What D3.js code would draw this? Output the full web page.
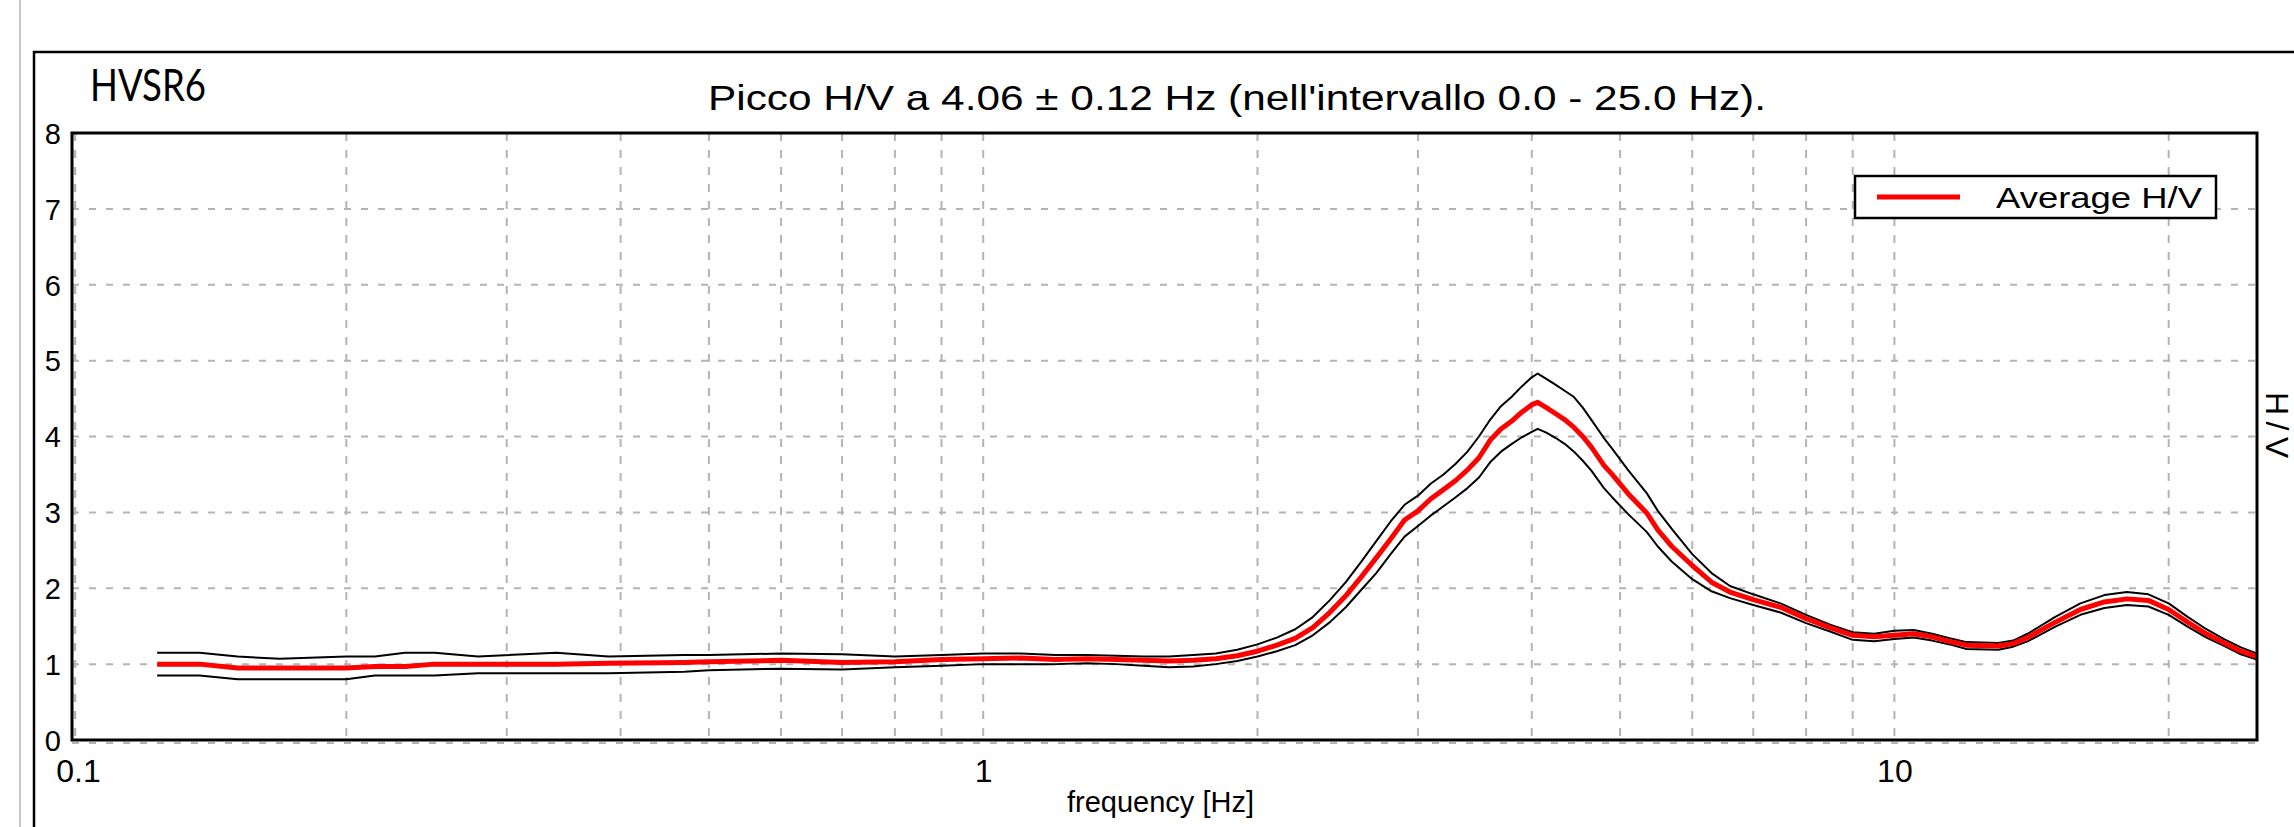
<!DOCTYPE html>
<html>
<head>
<meta charset="utf-8">
<script src="https://cdn.jsdelivr.net/npm/d3@7"></script>
<style>
  html, body { margin: 0; padding: 0; background: #fff; }
  svg { display: block; }
  text { font-family: "Liberation Sans", Arial, sans-serif; fill: #000; }
</style>
</head>
<body>
<svg id="chart" width="2294" height="827"></svg>
<script>
// ---- data ----
const chartTitle = "HVSR6";
const peakTitle = "Picco H/V a 4.06 \u00b1 0.12 Hz (nell'intervallo 0.0 - 25.0 Hz).";
const xLabel = "frequency [Hz]";
const yLabel = "H/V";
const legendLabel = "Average H/V";

const freq = [0.124, 0.138, 0.152, 0.169, 0.2, 0.215, 0.232, 0.25, 0.279, 0.34, 0.388, 0.47,
  0.5, 0.6, 0.7, 0.8, 0.9, 1.0, 1.1, 1.2, 1.3, 1.4, 1.5, 1.6, 1.7, 1.8, 1.9, 2.0,
  2.1, 2.2, 2.3, 2.4, 2.5, 2.6, 2.7, 2.8, 2.9, 3.0, 3.1, 3.2, 3.3, 3.4, 3.5, 3.6,
  3.7, 3.8, 3.9, 4.0, 4.06, 4.15, 4.25, 4.35, 4.45, 4.55, 4.65, 4.8, 4.9, 5.1,
  5.35, 5.5, 5.7, 6.0, 6.3, 6.6, 7.0, 7.5, 8.0, 8.5, 9.0, 9.5, 10.0, 10.5, 11.0,
  11.5, 12.0, 13.0, 13.5, 14.0, 15.0, 16.0, 17.0, 18.0, 19.0, 20.0, 21.0, 22.0,
  23.0, 24.0, 25.0];

const avgHV = [1.00, 1.00, 0.95, 0.95, 0.95, 0.97, 0.97, 1.00, 1.00, 1.00, 1.01, 1.02,
  1.03, 1.05, 1.02, 1.03, 1.06, 1.07, 1.08, 1.06, 1.07, 1.06, 1.05, 1.04, 1.05, 1.07, 1.11, 1.17,
  1.25, 1.34, 1.48, 1.68, 1.90, 2.15, 2.40, 2.65, 2.90, 3.02, 3.18, 3.30, 3.42, 3.56, 3.72, 3.95,
  4.10, 4.20, 4.32, 4.42, 4.45, 4.38, 4.30, 4.22, 4.12, 4.00, 3.86, 3.62, 3.50, 3.25,
  2.99, 2.77, 2.55, 2.30, 2.08, 1.95, 1.85, 1.75, 1.60, 1.48, 1.38, 1.36, 1.38, 1.40, 1.36,
  1.30, 1.25, 1.24, 1.27, 1.35, 1.55, 1.72, 1.82, 1.86, 1.84, 1.72, 1.55, 1.40,
  1.28, 1.17, 1.10];

const upperHV = [1.15, 1.15, 1.10, 1.07, 1.10, 1.10, 1.15, 1.15, 1.10, 1.15, 1.10, 1.12,
  1.12, 1.14, 1.13, 1.10, 1.12, 1.14, 1.14, 1.12, 1.12, 1.11, 1.10, 1.10, 1.12, 1.14, 1.19, 1.26,
  1.35, 1.46, 1.62, 1.84, 2.08, 2.35, 2.62, 2.88, 3.10, 3.22, 3.38, 3.50, 3.64, 3.80, 4.00, 4.22,
  4.40, 4.52, 4.66, 4.78, 4.83, 4.76, 4.68, 4.60, 4.52, 4.38, 4.22, 3.98, 3.84, 3.56,
  3.25, 3.02, 2.78, 2.45, 2.20, 2.03, 1.92, 1.80, 1.65, 1.52, 1.42, 1.40, 1.44, 1.45, 1.40,
  1.34, 1.29, 1.28, 1.31, 1.40, 1.62, 1.80, 1.91, 1.95, 1.92, 1.80, 1.62, 1.46,
  1.33, 1.22, 1.14];

const lowerHV = [0.85, 0.85, 0.80, 0.80, 0.80, 0.85, 0.85, 0.85, 0.88, 0.88, 0.88, 0.90,
  0.92, 0.94, 0.93, 0.96, 0.98, 1.00, 1.00, 1.00, 1.01, 1.00, 0.98, 0.96, 0.97, 1.00, 1.04, 1.10,
  1.17, 1.25, 1.38, 1.55, 1.75, 1.98, 2.20, 2.45, 2.68, 2.82, 2.96, 3.08, 3.20, 3.32, 3.46, 3.66,
  3.80, 3.90, 3.99, 4.06, 4.10, 4.05, 3.98, 3.90, 3.80, 3.68, 3.55, 3.32, 3.20, 2.98,
  2.74, 2.55, 2.35, 2.12, 1.96, 1.87, 1.78, 1.68, 1.54, 1.43, 1.32, 1.30, 1.33, 1.35, 1.31,
  1.26, 1.20, 1.19, 1.23, 1.30, 1.49, 1.65, 1.74, 1.78, 1.76, 1.65, 1.49, 1.35,
  1.24, 1.13, 1.06];

const xTicks = [0.1, 1, 10];
const xTickLabels = ["0.1", "1", "10"];
const yTicks = [0, 1, 2, 3, 4, 5, 6, 7, 8];
const xGrid = [0.2, 0.3, 0.4, 0.5, 0.6, 0.7, 0.8, 0.9, 1, 2, 3, 4, 5, 6, 7, 8, 9, 10, 20];
const yGrid = [1, 2, 3, 4, 5, 6, 7];

// ---- layout ----
const svg = d3.select("#chart");
const P = { left: 72, right: 2257, top: 133, bottom: 740 };

const x = d3.scaleLog().domain([0.1, 25]).range([P.left, P.right]);
const y = d3.scaleLinear().domain([0, 8]).range([P.bottom, P.top]);

// outer decorations
svg.append("line").attr("x1", 20).attr("x2", 20).attr("y1", 0).attr("y2", 827)
  .attr("stroke", "#c8c8c8").attr("stroke-width", 2);
svg.append("path").attr("d", "M34,827 V52 H2294")
  .attr("fill", "none").attr("stroke", "#000").attr("stroke-width", 2.5);

// titles
svg.append("text").attr("x", 90).attr("y", 101)
  .style("font-family", "Lato, 'Open Sans', sans-serif").style("font-size", "45px")
  .attr("textLength", 116).attr("lengthAdjust", "spacingAndGlyphs")
  .text(chartTitle);
svg.append("text").attr("x", 708).attr("y", 110)
  .style("font-size", "35px")
  .attr("textLength", 1058).attr("lengthAdjust", "spacingAndGlyphs")
  .text(peakTitle);

// clip
svg.append("clipPath").attr("id", "plotclip").append("rect")
  .attr("x", P.left).attr("y", P.top).attr("width", P.right - P.left).attr("height", P.bottom - P.top);

// grid
const grid = svg.append("g").attr("clip-path", "url(#plotclip)");
grid.selectAll("line.gx").data(xGrid).join("line").attr("class", "gx")
  .attr("x1", d => x(d)).attr("x2", d => x(d)).attr("y1", P.top).attr("y2", P.bottom)
  .attr("stroke", "#b4b4b4").attr("stroke-width", 2).attr("stroke-dasharray", "8,9");
grid.selectAll("line.gy").data(yGrid).join("line").attr("class", "gy")
  .attr("x1", P.left).attr("x2", P.right).attr("y1", d => y(d)).attr("y2", d => y(d))
  .attr("stroke", "#b4b4b4").attr("stroke-width", 2).attr("stroke-dasharray", "7,10");
// edge grid lines (slightly offset from the axes)
grid.append("line").attr("x1", x(0.1) + 3).attr("x2", x(0.1) + 3).attr("y1", P.top).attr("y2", P.bottom)
  .attr("stroke", "#b4b4b4").attr("stroke-width", 2.5).attr("stroke-dasharray", "8,9");
svg.append("line").attr("x1", P.left).attr("x2", P.right).attr("y1", y(0) + 3).attr("y2", y(0) + 3)
  .attr("stroke", "#b4b4b4").attr("stroke-width", 2).attr("stroke-dasharray", "7,10");

// curves
const series = freq.map((f, i) => ({ f, avg: avgHV[i], up: upperHV[i], lo: lowerHV[i] }));
const lineOf = key => d3.line().x(d => x(d.f)).y(d => y(d[key]));
const curves = svg.append("g").attr("clip-path", "url(#plotclip)");
curves.append("path").datum(series).attr("d", lineOf("up"))
  .attr("fill", "none").attr("stroke", "#000").attr("stroke-width", 2).attr("stroke-linejoin", "round");
curves.append("path").datum(series).attr("d", lineOf("lo"))
  .attr("fill", "none").attr("stroke", "#000").attr("stroke-width", 2).attr("stroke-linejoin", "round");
curves.append("path").datum(series).attr("d", lineOf("avg"))
  .attr("fill", "none").attr("stroke", "#ff0000").attr("stroke-width", 5).attr("stroke-linejoin", "round");

// plot frame
svg.append("rect").attr("x", P.left).attr("y", P.top)
  .attr("width", P.right - P.left).attr("height", P.bottom - P.top)
  .attr("fill", "none").attr("stroke", "#000").attr("stroke-width", 3);

// axes (labels only)
const yAxis = svg.append("g").attr("transform", `translate(${P.left - 11},1)`)
  .call(d3.axisLeft(y).tickValues(yTicks).tickSize(0).tickPadding(0).tickFormat(d3.format("d")));
yAxis.select(".domain").remove();
yAxis.selectAll("text").style("font-family", "'Liberation Sans', Arial, sans-serif").style("font-size", "29px").attr("fill", "#000");

const xAxis = svg.append("g").attr("transform", `translate(0,${P.bottom})`)
  .call(d3.axisBottom(x).tickValues(xTicks).tickSize(0).tickPadding(19)
    .tickFormat((d, i) => xTickLabels[i]));
xAxis.select(".domain").remove();
xAxis.selectAll("text").style("font-family", "'Liberation Sans', Arial, sans-serif").style("font-size", "32px").attr("fill", "#000")
  .attr("dx", (d, i) => i === 0 ? 6 : 0);

// axis titles
svg.append("text").attr("x", (P.left + P.right) / 2 - 4).attr("y", 812)
  .attr("text-anchor", "middle").style("font-size", "30px")
  .attr("textLength", 187).attr("lengthAdjust", "spacingAndGlyphs")
  .text(xLabel);
svg.append("text").attr("transform", "translate(2266,425) rotate(90)")
  .attr("text-anchor", "middle").style("font-size", "32px")
  .attr("textLength", 66).attr("lengthAdjust", "spacing")
  .text(yLabel);

// legend
const lg = svg.append("g");
lg.append("rect").attr("x", 1855).attr("y", 176).attr("width", 361).attr("height", 42)
  .attr("fill", "#fff").attr("stroke", "#000").attr("stroke-width", 2.5);
lg.append("line").attr("x1", 1877).attr("x2", 1960).attr("y1", 197).attr("y2", 197)
  .attr("stroke", "#ff0000").attr("stroke-width", 5);
lg.append("text").attr("x", 1996).attr("y", 208).style("font-size", "29px")
  .attr("textLength", 206).attr("lengthAdjust", "spacingAndGlyphs")
  .text(legendLabel);
</script>
</body>
</html>
